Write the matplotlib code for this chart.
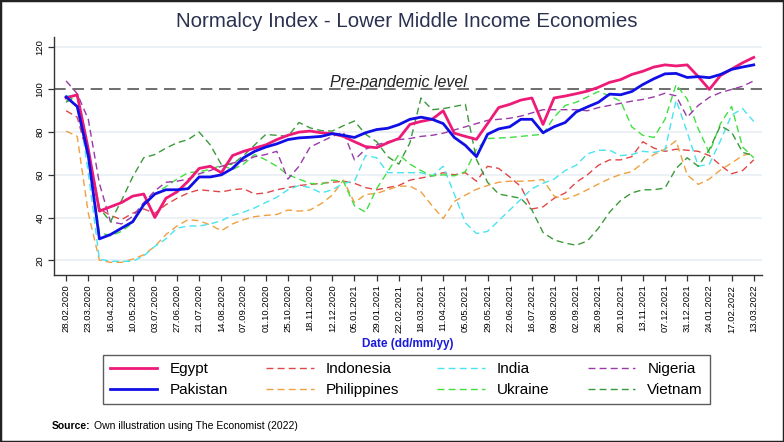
import numpy as np
import matplotlib
matplotlib.use("Agg")
import matplotlib.pyplot as plt
from matplotlib.patches import Rectangle

plt.rcParams['font.family'] = ['Liberation Sans', 'DejaVu Sans']

# sample every 12 days from 28.02.2020
days = np.arange(0, 745, 12)
tick_days = np.arange(0, 745, 24)
tick_labels = ["28.02.2020", "23.03.2020", "16.04.2020", "10.05.2020", "03.07.2020",
               "27.06.2020", "21.07.2020", "14.08.2020", "07.09.2020", "01.10.2020",
               "25.10.2020", "18.11.2020", "12.12.2020", "05.01.2021", "29.01.2021",
               "22.02.2021", "18.03.2021", "11.04.2021", "05.05.2021", "29.05.2021",
               "22.06.2021", "16.07.2021", "09.08.2021", "02.09.2021", "26.09.2021",
               "20.10.2021", "13.11.2021", "07.12.2021", "31.12.2021", "24.01.2022",
               "17.02.2022", "13.03.2022"]

egypt = [96, 97.5, 72, 43, 45, 47, 50, 51, 40, 49, 52, 57, 63, 64, 61, 69, 71, 72.5, 74, 76.5,
         78.5, 80, 80.5, 79.7, 79.3, 78, 75.5, 73.2, 72.7, 75, 77, 83.6, 85, 86, 90, 79.5, 78, 76.6,
         84, 91.5, 93, 95, 96, 83.6, 96, 96.9, 98, 99.2, 101, 103.3, 104.6, 107, 108.5, 110.5,
         111.5, 111, 111.5, 106, 100, 106.5, 109.5, 112.5, 115]
pakistan = [96.5, 92, 69, 30, 32, 35, 38, 46, 51, 53, 53, 53.5, 59, 59, 60, 63, 68, 71, 73, 74.5,
            76.5, 77.3, 77.6, 78, 79.3, 78.5, 77.5, 79.7, 81.2, 81.8, 83.5, 86, 87, 86, 84, 77.5,
            73.8, 68.5, 79, 81.5, 82.5, 86, 86, 79.7, 82.5, 84.5, 89.5, 91.8, 94, 97.8, 97.5, 99,
            102.3, 105, 107.3, 107.5, 105.6, 106, 105.5, 107, 109.4, 110.5, 111.5]
indonesia = [90, 87, 68, 44, 41, 39, 42, 44, 42, 46, 49, 51.5, 53, 52.5, 52, 53, 53.5, 51, 51.5, 53,
             54, 55, 55.5, 56, 56.5, 57, 56, 54, 53, 54, 55, 57.5, 58.5, 59.5, 61, 60, 61, 57, 64,
             63, 59, 54.5, 44, 45, 49, 51.5, 56.5, 60, 64.5, 67, 67, 68.5, 75.5, 72.5, 71, 72,
             71.5, 71, 69, 64.5, 60.5, 62, 67]
india = [97, 97, 61, 20.5, 19.5, 19.5, 19.5, 22, 26.5, 30, 35, 36, 36, 37, 38.5, 41, 42.5, 44.5, 47,
         49.5, 53, 55, 54, 51.5, 53, 56, 57, 69, 68, 61, 61, 61, 61, 59.5, 64, 51, 37.5, 32.5, 33.5,
         38.5, 43.5, 48.5, 53.5, 56, 58, 62, 64.5, 69.8, 71.5, 71.5, 69, 69.5, 71, 70.5, 71.5, 95,
         80, 64, 65, 76, 88, 91, 85]
nigeria = [104, 98, 86, 56, 38, 37, 40.5, 47, 52.5, 56.5, 57, 58, 60.5, 62, 64, 65.5, 66.5, 68.5,
           69.5, 71, 58, 64, 73, 75.5, 78, 80, 67, 72, 74, 75.5, 76.5, 77, 78, 78.5, 79.5, 81, 82.5,
           84, 85.5, 86, 86.5, 87.5, 89, 90.5, 90.5, 90.5, 90.5, 90, 91.5, 92.5, 93.5, 94.5, 95.3,
           96.5, 98.2, 97, 87, 92.5, 96.3, 98.5, 100, 101.5, 104]
philippines = [80.5, 78, 42, 20, 19, 19, 20.5, 22.5, 26.5, 32, 36, 39, 38.5, 36.5, 33.8, 37, 39,
               40.4, 41, 41.4, 43.5, 43, 43.5, 46.5, 50.5, 57.5, 47, 50.8, 51.3, 53, 54.7, 54.7,
               52, 45.5, 39.5, 47.5, 50.5, 53.2, 55, 56.5, 57, 57, 57.2, 57.8, 50, 48.5, 50.5, 53,
               55.7, 58.2, 60.2, 61.5, 65.5, 69.5, 72, 76, 60, 55.5, 58, 62.3, 65.5, 69, 70.5]
ukraine = [94.5, 97, 70, 33, 31.5, 33.5, 37.5, 46, 51, 54.5, 58, 61, 61.5, 62.5, 64.5, 62.5, 65,
           69.5, 67, 64, 60, 58, 56, 55.5, 57.5, 57, 45.5, 42.5, 53.5, 61.5, 69.5, 65, 62, 59.5,
           60, 59.5, 61.5, 72, 77, 77.2, 77.5, 78, 78.5, 79, 87, 92.5, 94, 96.5, 99, 97, 94.5,
           82.5, 78.5, 77.5, 86, 102.3, 95.5, 81.5, 70.3, 84, 92, 73, 68]
vietnam = [94, 97, 72, 44.5, 38, 48, 59, 68, 69.5, 72.5, 75, 76.5, 80, 74, 64.8, 65, 69, 74, 78.9,
           78.5, 78, 84.5, 82, 80.7, 80.5, 83, 85.2, 79, 75.5, 68.5, 65, 75, 96, 90.5, 91, 92, 93,
           67.2, 56.5, 51, 50, 49, 43.5, 33, 29.5, 28, 27, 29, 35, 42.5, 48, 51.5, 53, 53, 53.8,
           63, 68, 64, 71.9, 83, 80, 70.5, 69]

fig = plt.figure(figsize=(7.84, 4.42), dpi=100)
ax = fig.add_axes([0.069, 0.378, 0.903, 0.538])

for y in [20, 40, 60, 80, 120]:
    ax.axhline(y, color="#e6edf2", lw=1.1, zorder=0)
ax.axhline(100, color="#555555", lw=1.2, dashes=(7, 4), zorder=1)
ax.text(285, 101.3, "Pre-pandemic level", style="italic", fontsize=11.5,
        color="#222222", va="baseline", ha="left")

dash = (5, 3)
l_ind, = ax.plot(days, indonesia, color="#e04848", lw=1.0, dashes=dash)
l_phi, = ax.plot(days, philippines, color="#f0a040", lw=1.0, dashes=dash)
l_ina, = ax.plot(days, india, color="#48e4f0", lw=1.0, dashes=dash)
l_ukr, = ax.plot(days, ukraine, color="#40e040", lw=1.0, dashes=dash)
l_nig, = ax.plot(days, nigeria, color="#9a3aa8", lw=1.0, dashes=dash)
l_vie, = ax.plot(days, vietnam, color="#3c9a3c", lw=1.0, dashes=dash)
l_egy, = ax.plot(days, egypt, color="#ee1a78", lw=2.0)
l_pak, = ax.plot(days, pakistan, color="#1010e6", lw=2.0)

ax.set_xlim(-13, 753)
ax.set_ylim(13.1, 124.5)
ax.set_xticks(tick_days)
ax.set_xticklabels(tick_labels, rotation=90, fontsize=6.8)
ax.set_yticks([20, 40, 60, 80, 100, 120])
ax.set_yticklabels(["20", "40", "60", "80", "100", "120"], rotation=90, va="center", fontsize=6.8)
ax.tick_params(length=4, width=0.9, color="#333333", pad=3)
for s in ["top", "right"]:
    ax.spines[s].set_visible(False)
for s in ["left", "bottom"]:
    ax.spines[s].set_color("#333333")
    ax.spines[s].set_linewidth(1.0)

fig.text(0.519, 0.952, "Normalcy Index - Lower Middle Income Economies", ha="center",
         va="center", fontsize=14.8, color="#2b3150")
fig.text(0.52, 0.222, "Date (dd/mm/yy)", ha="center", va="center", fontsize=8.5,
         color="#1a1adc", fontweight="bold")

handles = [l_egy, l_pak, l_ind, l_phi, l_ina, l_ukr, l_nig, l_vie]
labels = ["Egypt", "Pakistan", "Indonesia", "Philippines", "India", "Ukraine", "Nigeria", "Vietnam"]
leg = fig.legend(handles, labels, ncol=4, loc="upper center", bbox_to_anchor=(0.5185, 0.196),
                 frameon=True, fancybox=False, edgecolor="#333333", fontsize=11,
                 handlelength=3.1, columnspacing=2.5, borderpad=0.45, labelspacing=0.45,
                 handletextpad=0.8, borderaxespad=0)
leg.get_frame().set_linewidth(1.0)

t1 = fig.text(0.066, 0.036, "Source:", fontsize=7.5, fontweight="bold", va="center")
fig.canvas.draw()
bb = t1.get_window_extent()
fig.text(bb.x1 / fig.bbox.width + 0.004, 0.036, "Own illustration using The Economist (2022)",
         fontsize=7.5, va="center")

fig.patches.append(Rectangle((0, 0), 1, 1, transform=fig.transFigure, fill=False,
                             edgecolor="#222222", lw=2.5))

fig.savefig("out.png", dpi=100)
